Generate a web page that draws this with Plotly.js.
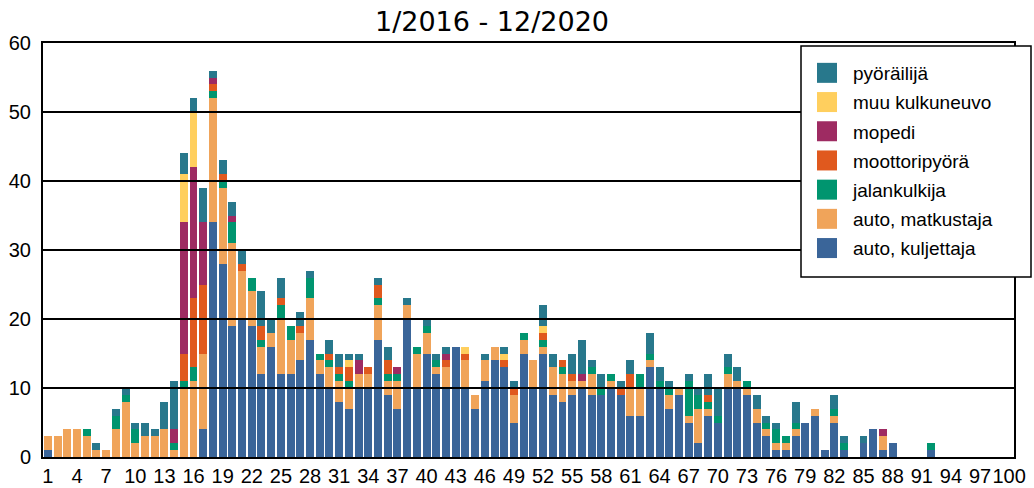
<!DOCTYPE html>
<html>
<head>
<meta charset="utf-8">
<script src="https://cdn.plot.ly/plotly-3.0.1.min.js"></script>
<style>
html,body{margin:0;padding:0;background:#fff;}
#chart{width:1034px;height:488px;}
</style>
</head>
<body>
<div id="chart"></div>
<script>
// Age categories 1..100
const ages = [
  1,2,3,4,5,6,7,8,9,10,
  11,12,13,14,15,16,17,18,19,20,
  21,22,23,24,25,26,27,28,29,30,
  31,32,33,34,35,36,37,38,39,40,
  41,42,43,44,45,46,47,48,49,50,
  51,52,53,54,55,56,57,58,59,60,
  61,62,63,64,65,66,67,68,69,70,
  71,72,73,74,75,76,77,78,79,80,
  81,82,83,84,85,86,87,88,89,90,
  91,92,93,94,95,96,97,98,99,100];

const tickVals = [1,4,7,10,13,16,19,22,25,28,31,34,37,40,43,46,49,52,55,58,61,64,67,70,73,76,79,82,85,88,91,94,97,100];
const tickLabels = ["1","4","7","10","13","16","19","22","25","28","31","34","37","40","43","46","49","52","55","58","61","64","67","70","73","76","79","82","85","88","91","94","97","100"];
const yTickVals = [0,10,20,30,40,50,60];

const autoKuljettaja = [
  1,0,0,0,0,0,0,0,0,0,
  0,0,0,0,0,0,4,34,28,19,
  20,19,12,16,12,12,14,17,12,10,
  8,7,10,10,17,9,7,20,10,15,
  12,10,16,10,7,11,14,13,5,15,
  10,15,9,8,9,10,9,9,10,9,
  6,6,13,10,7,9,5,2,6,5,
  10,10,9,5,3,1,1,3,5,6,
  1,5,1,0,2,4,1,2,0,0,
  0,1,0,0,0,0,0,0,0,0];

const autoMatkustaja = [
  2,3,4,4,3,1,1,4,8,2,
  3,3,4,1,10,11,11,18,11,12,
  7,5,4,2,8,5,4,6,2,3,
  3,3,2,2,5,2,4,2,5,3,
  1,3,0,4,2,3,2,0,4,2,
  4,1,4,4,2,1,3,0,1,0,
  4,4,1,0,2,1,1,5,1,0,
  2,1,1,2,1,1,1,1,0,1,
  0,1,0,0,0,0,2,0,0,0,
  0,0,0,0,0,0,0,0,0,0];

const jalankulkija = [
  0,0,0,0,1,0,0,2,1,2,
  0,0,0,1,1,2,0,1,1,3,
  0,2,1,0,2,2,0,3,1,1,
  1,1,0,0,1,1,1,0,1,1,
  1,0,0,0,0,0,0,0,0,1,
  0,1,0,1,0,0,1,1,1,0,
  0,2,1,1,1,0,5,2,1,1,
  1,0,1,0,1,2,1,1,0,0,
  0,1,1,0,0,0,0,0,0,0,
  0,1,0,0,0,0,0,0,0,0];

const moottoripyora = [
  0,0,0,0,0,0,0,0,0,0,
  0,0,0,0,4,10,10,1,1,0,
  1,0,2,0,1,0,1,0,0,1,
  1,2,0,1,2,2,0,0,0,0,
  0,1,0,1,0,0,0,1,1,0,
  0,1,0,1,1,0,0,0,0,1,
  2,0,0,0,0,0,0,0,1,0,
  0,0,0,0,0,0,0,0,0,0,
  0,0,0,0,0,0,0,0,0,0,
  0,0,0,0,0,0,0,0,0,0];

const mopedi = [
  0,0,0,0,0,0,0,0,0,0,
  0,0,0,2,19,19,9,1,0,1,
  0,0,0,0,0,0,0,0,0,0,
  0,0,2,0,0,0,1,0,0,0,
  0,1,0,0,0,0,0,0,0,0,
  0,0,0,0,0,1,0,0,0,0,
  0,0,0,0,0,0,0,0,0,0,
  0,0,0,0,0,0,0,0,0,0,
  0,0,0,0,0,0,1,0,0,0,
  0,0,0,0,0,0,0,0,0,0];

const muuKulkuneuvo = [
  0,0,0,0,0,0,0,0,0,0,
  0,0,0,0,7,8,0,0,0,0,
  0,0,0,0,0,0,0,0,0,0,
  0,1,0,0,0,0,0,0,0,0,
  0,0,0,1,0,0,0,1,0,0,
  0,1,0,0,0,0,0,0,0,0,
  0,0,0,0,0,0,0,0,0,0,
  0,0,0,0,0,0,0,0,0,0,
  0,0,0,0,0,0,0,0,0,0,
  0,0,0,0,0,0,0,0,0,0];

const pyorailija = [
  0,0,0,0,0,1,0,1,1,1,
  2,1,4,7,3,2,5,1,2,2,
  2,0,5,2,3,0,2,1,0,2,
  2,1,1,0,1,2,0,1,0,1,
  1,1,0,0,0,1,0,1,1,0,
  0,3,2,0,3,5,1,2,0,1,
  2,0,3,2,1,0,1,1,3,4,
  2,2,0,2,1,1,0,3,0,0,
  0,2,1,0,1,0,0,0,0,0,
  0,0,0,0,0,0,0,0,0,0];

const seriesNames = ["auto, kuljettaja","auto, matkustaja","jalankulkija","moottoripyörä","mopedi","muu kulkuneuvo","pyöräilijä"];
const seriesValues = [autoKuljettaja, autoMatkustaja, jalankulkija, moottoripyora, mopedi, muuKulkuneuvo, pyorailija];
const seriesColors = ["#3a6599","#f0a45a","#00956f","#e0591e","#9e2b62","#ffcf5e","#28788c"];

const traces = seriesNames.map((name, i) => ({
  type: 'bar',
  name: name,
  x: ages,
  y: seriesValues[i],
  marker: {color: seriesColors[i], line: {width: 0}},
  legendgroup: 'g' + i,
  legendrank: 1000 - i * 10,
  hoverinfo: 'x+y+name'
}));

const W = 1034, H = 488;
const mL = 43, mR = 20, mT = 43, mB = 31;
const pw = W - mL - mR, ph = H - mT - mB;

const gridShapes = yTickVals.filter(v => v > 0 && v < 60).map(v => ({
  type: 'line', xref: 'paper', yref: 'y', x0: 0, x1: 1, y0: v, y1: v,
  line: {color: '#000', width: 2}, layer: 'above'
}));

const legendBox = {
  type: 'rect', xref: 'paper', yref: 'paper',
  x0: (801 - mL) / pw, x1: (1031 - mL) / pw,
  y0: (H - mB - 277) / ph, y1: (H - mB - 46) / ph,
  line: {color: '#000', width: 1.5}, fillcolor: '#fff', layer: 'above'
};

const layout = {
  width: W, height: H,
  margin: {l: mL, r: mR, t: mT, b: mB, pad: 0},
  paper_bgcolor: '#fff', plot_bgcolor: '#fff',
  barmode: 'stack',
  bargap: 0.18,
  font: {family: 'Liberation Sans, Arial, sans-serif', color: '#000', size: 20},
  title: {
    text: '1/2016 - 12/2020',
    font: {family: 'DejaVu Sans, Verdana, sans-serif', size: 27, color: '#000'},
    x: 492 / W, xanchor: 'center', xref: 'container',
    y: 1 - 22 / H, yanchor: 'middle', yref: 'container'
  },
  xaxis: {
    range: [0.5, 100.5],
    tickmode: 'array', tickvals: tickVals, ticktext: tickLabels,
    tickangle: 0, ticks: '', ticklabelstandoff: 0,
    showgrid: false, zeroline: false,
    showline: true, mirror: true, linecolor: '#000', linewidth: 2,
    tickfont: {size: 20, family: 'Liberation Sans, Arial, sans-serif', color: '#000'},
    fixedrange: true
  },
  yaxis: {
    range: [0, 60],
    tickmode: 'array', tickvals: yTickVals,
    ticks: '', ticklabelstandoff: 6,
    showgrid: false, zeroline: false,
    showline: true, mirror: true, linecolor: '#000', linewidth: 2,
    tickfont: {size: 20, family: 'Liberation Sans, Arial, sans-serif', color: '#000'},
    fixedrange: true
  },
  shapes: gridShapes.concat([legendBox]),
  showlegend: true,
  legend: {
    traceorder: 'grouped',
    tracegroupgap: 1.5,
    x: (813 - mL) / pw, xanchor: 'left',
    y: (H - mB - 54) / ph, yanchor: 'top',
    bgcolor: 'rgba(0,0,0,0)', borderwidth: 0,
    font: {size: 19, family: 'Liberation Sans, Arial, sans-serif', color: '#000'},
    itemclick: false, itemdoubleclick: false
  },
  hovermode: false
};

function styleLegendSymbols() {
  document.querySelectorAll('#chart .legend .legendpoints path').forEach(p => {
    p.removeAttribute('transform');
    p.setAttribute('d', 'M24,10H4V-10H24Z');
  });
}

const gd = document.getElementById('chart');
Plotly.newPlot(gd, traces, layout, {displayModeBar: false, staticPlot: true}).then(() => {
  styleLegendSymbols();
  gd.on && gd.on('plotly_afterplot', styleLegendSymbols);
});
</script>
</body>
</html>
